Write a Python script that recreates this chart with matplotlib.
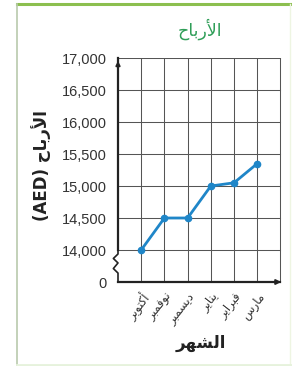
import matplotlib
matplotlib.use("Agg")
import matplotlib.pyplot as plt
from matplotlib.lines import Line2D
import numpy as np

# ---------------- data ----------------
months = ["أكتوبر", "نوفمبر", "ديسمبر", "يناير", "فبراير", "مارس"]
profits = [14000, 14500, 14500, 15000, 15050, 15350]
y_ticks = [0, 14000, 14500, 15000, 15500, 16000, 16500, 17000]
y_tick_labels = ["0", "14,000", "14,500", "15,000", "15,500", "16,000", "16,500", "17,000"]
title_text = "الأرباح"
y_label_ar = "الأرباح"
y_label_en = "(AED)"
x_label_text = "الشهر"

# ---------------- minimal Arabic shaping ----------------
FORMS = {
    "ا": ("\uFE8D", "\uFE8E", None, None),
    "أ": ("\uFE83", "\uFE84", None, None),
    "ب": ("\uFE8F", "\uFE90", "\uFE91", "\uFE92"),
    "ت": ("\uFE95", "\uFE96", "\uFE97", "\uFE98"),
    "ح": ("\uFEA1", "\uFEA2", "\uFEA3", "\uFEA4"),
    "د": ("\uFEA9", "\uFEAA", None, None),
    "ر": ("\uFEAD", "\uFEAE", None, None),
    "س": ("\uFEB1", "\uFEB2", "\uFEB3", "\uFEB4"),
    "ش": ("\uFEB5", "\uFEB6", "\uFEB7", "\uFEB8"),
    "ف": ("\uFED1", "\uFED2", "\uFED3", "\uFED4"),
    "ك": ("\uFED9", "\uFEDA", "\uFEDB", "\uFEDC"),
    "ل": ("\uFEDD", "\uFEDE", "\uFEDF", "\uFEE0"),
    "م": ("\uFEE1", "\uFEE2", "\uFEE3", "\uFEE4"),
    "ن": ("\uFEE5", "\uFEE6", "\uFEE7", "\uFEE8"),
    "ه": ("\uFEE9", "\uFEEA", "\uFEEB", "\uFEEC"),
    "و": ("\uFEED", "\uFEEE", None, None),
    "ي": ("\uFEF1", "\uFEF2", "\uFEF3", "\uFEF4"),
}
LAM_ALEF = {"ا": ("\uFEFB", "\uFEFC"), "أ": ("\uFEF7", "\uFEF8")}


def joins_left(ch):
    return ch in FORMS and FORMS[ch][2] is not None


def shape(word):
    units = []
    i = 0
    while i < len(word):
        c = word[i]
        if c == "ل" and i + 1 < len(word) and word[i + 1] in LAM_ALEF:
            units.append(("LA", word[i + 1]))
            i += 2
        else:
            units.append(("C", c))
            i += 1
    out = []
    for k, (kind, c) in enumerate(units):
        prev = units[k - 1] if k > 0 else None
        nxt = units[k + 1] if k + 1 < len(units) else None
        prev_joins = prev is not None and prev[0] == "C" and joins_left(prev[1])
        if kind == "LA":
            out.append(LAM_ALEF[c][1] if prev_joins else LAM_ALEF[c][0])
            continue
        if c not in FORMS:
            out.append(c)
            continue
        iso, fin, ini, med = FORMS[c]
        next_exists = nxt is not None and (nxt[0] == "LA" or nxt[1] in FORMS)
        can_next = ini is not None and next_exists
        if prev_joins and can_next:
            out.append(med)
        elif prev_joins:
            out.append(fin)
        elif can_next:
            out.append(ini)
        else:
            out.append(iso)
    return "".join(reversed(out))


# ---------------- scale ----------------
def fwd(v):
    v = np.asarray(v, dtype=float)
    return np.where(v < 14000, v / 14000.0, 1.0 + (v - 14000.0) / 500.0)


def inv(p):
    p = np.asarray(p, dtype=float)
    return np.where(p < 1, p * 14000.0, 14000.0 + (p - 1.0) * 500.0)


# ---------------- figure ----------------
W, H = 292, 366
fig = plt.figure(figsize=(W / 100, H / 100), dpi=100)
fig.patch.set_facecolor("white")

# outer frame
fig.add_artist(Line2D([17 / W, 1.0], [1 - 3.5 / H, 1 - 3.5 / H], color="#8cbf4f", lw=2.2))
fig.add_artist(Line2D([17 / W, 17 / W], [0, 1 - 3.5 / H], color="#b9c9ad", lw=1.2))
fig.add_artist(Line2D([289.5 / W, 289.5 / W], [0, 1 - 3.5 / H], color="#eef5e2", lw=1.0))
fig.add_artist(Line2D([17 / W, 1.0], [1.5 / H, 1.5 / H], color="#e6f2dc", lw=2.0))

ax_left, ax_right = 118 / W, 284 / W
ax_bottom, ax_top = 1 - 282 / H, 1 - 58 / H
ax = fig.add_axes([ax_left, ax_bottom, ax_right - ax_left, ax_top - ax_bottom])
ax.set_yscale("function", functions=(fwd, inv))
ax.set_ylim(0, 17000)
n = len(months)
ax.set_xlim(0, (n + 1) * 1.022)

for s in ax.spines.values():
    s.set_visible(False)

grid_c = "#555555"
for xv in range(1, n + 2):
    ax.plot([xv, xv], [0, 17000], color=grid_c, lw=0.75, zorder=1)
for yv in y_ticks[1:]:
    ax.plot([0, n + 1], [yv, yv], color=grid_c, lw=0.75, zorder=1)

axis_c = "#222222"
ax.plot([0, 0], [14000, 17000], color=axis_c, lw=1.6, zorder=3, clip_on=False)
ax.plot([0, (n + 1) * 1.0], [0, 0], color=axis_c, lw=1.6, zorder=3, clip_on=False)
ax.annotate("", xy=((n + 1) * 1.022, 0), xytext=(n + 0.6, 0),
            arrowprops=dict(arrowstyle="-|>", color=axis_c, lw=1.4, mutation_scale=7),
            annotation_clip=False, zorder=4)
ax.annotate("", xy=(0, 17000), xytext=(0, 16600),
            arrowprops=dict(arrowstyle="-|>", color=axis_c, lw=1.4, mutation_scale=6),
            annotation_clip=False, zorder=4)

# axis break zigzag (axes coords)
zz_x = np.array([0, 0, -0.028, 0.0, -0.028, 0, 0])
zz_y = np.array([1 / 7, 0.125, 0.105, 0.085, 0.06, 0.04, 0.0])
ax.plot(zz_x, zz_y, transform=ax.transAxes, color=axis_c, lw=1.2, clip_on=False, zorder=3)

# data line
xs = np.arange(1, n + 1)
ax.plot(xs, profits, color="#1f86c8", lw=2.0, marker="o", ms=4.5, zorder=5,
        markerfacecolor="#1f86c8", markeredgecolor="#1f86c8")

# ticks
ax.set_yticks(y_ticks)
ax.set_yticklabels(y_tick_labels, fontsize=10.5, color="#333333",
                   family=["Liberation Sans Narrow", "Liberation Sans"])
ax.yaxis.set_minor_locator(matplotlib.ticker.NullLocator())
ax.tick_params(axis="y", length=0, pad=8)
ax.set_xticks(xs)
ax.set_xticklabels([shape(m) for m in months], rotation=52, ha="right", va="top",
                   rotation_mode="anchor", fontsize=8.5, color="#333333",
                   family=["DejaVu Sans"])
ax.tick_params(axis="x", length=0, pad=6)

# texts
fig.text((118 + 281) / 2 / W, 1 - 29 / H, shape(title_text), color="#2f9e58",
         fontsize=12.5, ha="center", va="center", family=["DejaVu Sans"])
fig.text(41 / W, 1 - 166 / H, y_label_en + " " + shape(y_label_ar), rotation=90,
         fontsize=12, fontweight="bold", ha="center", va="center", color="#222222",
         family=["DejaVu Sans"])
fig.text(201 / W, 1 - 343 / H, shape(x_label_text), fontsize=12, fontweight="bold",
         ha="center", va="center", color="#222222", family=["DejaVu Sans"])

fig.savefig("out.png", dpi=100)
